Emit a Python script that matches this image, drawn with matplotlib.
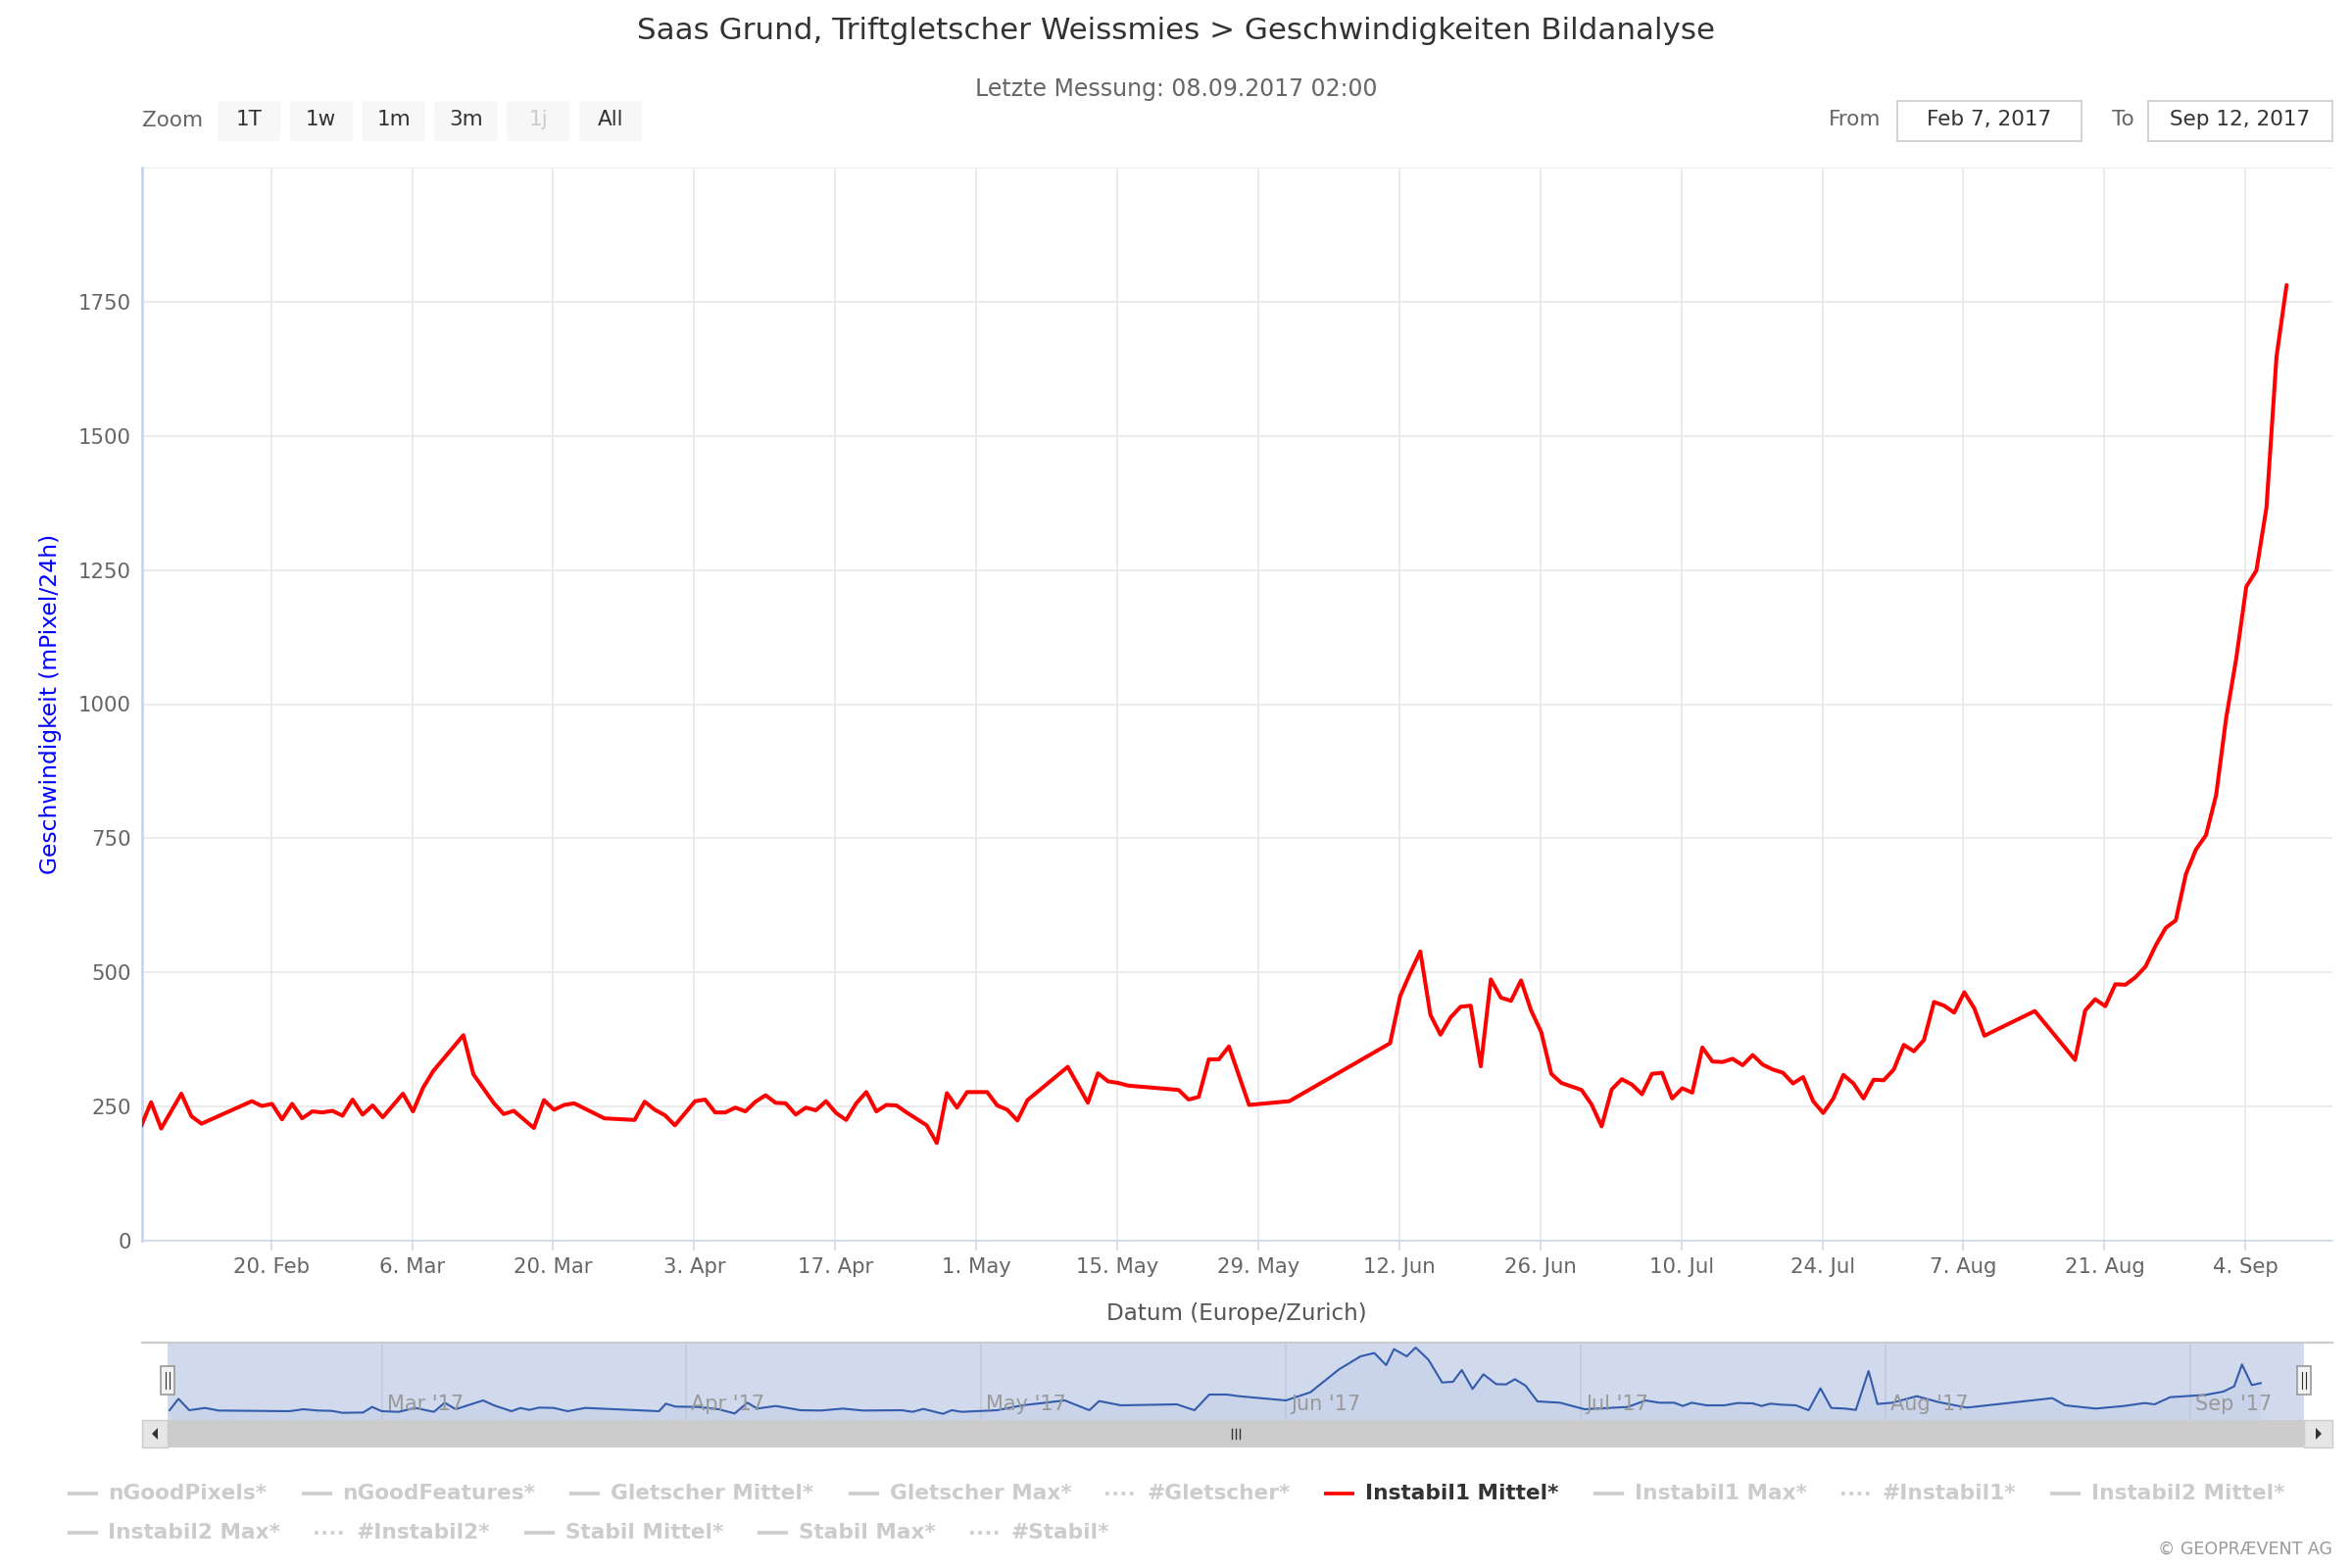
import pandas as pd
import matplotlib
matplotlib.use("Agg")
import matplotlib.pyplot as plt
import matplotlib.transforms as mtransforms
from matplotlib.patches import Rectangle, FancyBboxPatch, Polygon

plt.rcParams['font.family'] = ['DejaVu Sans']

# --- data ---------------------------------------------------------------
t0 = pd.Timestamp("2017-02-07")

# Instabil1 Mittel*: day after 7 Feb (measurement at 02:00), speed mPixel/24h
days = [0, 1, 2, 4, 5, 6, 11, 12, 13, 14, 15, 16, 17, 18, 19, 20, 21, 22, 23, 24,
        26, 27, 28, 29, 32, 33, 35, 36, 37, 39, 40, 41, 42, 43, 46, 49, 50, 51, 52, 53,
        55, 56, 57, 58, 59, 60, 61, 62, 63, 64, 65, 66, 67, 68, 69, 70, 71, 72, 73, 74,
        75, 76, 78, 79, 80, 81, 82, 84, 85, 86, 87, 88, 92, 94, 95, 96, 97, 98, 103, 104,
        105, 106, 107, 108, 110, 114, 124, 125, 126, 127, 128, 129, 130, 131, 132, 133,
        134, 135, 136, 137, 138, 139, 140, 141, 143, 144, 145, 146, 147, 148, 149, 150,
        151, 152, 153, 154, 155, 156, 157, 158, 159, 160, 161, 162, 163, 164, 165, 166,
        167, 168, 169, 170, 171, 172, 173, 174, 175, 176, 177, 178, 179, 180, 181, 182,
        183, 188, 192, 193, 194, 195, 196, 197, 198, 199, 200, 201, 202, 203, 204, 205,
        206, 207, 208, 209, 210, 211, 212, 213]
speed = [213, 258, 209, 274, 232, 218, 260, 251, 255, 226, 255, 228, 241, 239, 242, 233, 263, 235, 252, 230,
         274, 241, 285, 316, 383, 310, 257, 236, 242, 210, 262, 244, 253, 256, 228, 225, 259, 244, 234, 215,
         260, 263, 239, 239, 248, 241, 259, 271, 257, 256, 235, 248, 243, 260, 238, 225, 256, 277, 241, 253,
         252, 239, 215, 182, 275, 248, 277, 277, 252, 244, 224, 262, 324, 257, 312, 297, 294, 289, 281, 263,
         268, 338, 338, 362, 253, 260, 368, 456, 499, 539, 421, 384, 416, 436, 438, 325,
         487, 453, 447, 485, 429, 389, 311, 294, 281, 254, 213, 282, 301, 291, 273, 311,
         313, 265, 284, 276, 360, 334, 333, 339, 327, 346, 328, 319, 313, 293, 305, 260,
         238, 265, 309, 293, 265, 300, 299, 319, 365, 353, 374, 445, 438, 425, 463, 433,
         382, 428, 337, 429, 450, 437, 478, 477, 491, 511, 550, 583, 597, 683, 729, 756,
         830, 974, 1085, 1219, 1249, 1366, 1648, 1781]

# navigator series (relative units)
nav_days = [0.4, 1.3, 2.4, 4.0, 5.4, 12.6, 14.0, 15.5, 16.9, 18.0, 20.1, 21.0, 22.0, 23.7, 25.4,
            27.3, 28.4, 29.5, 32.3, 33.4, 35.2, 36.1, 37.0, 38.0, 39.5, 40.9, 42.7, 50.2, 50.9,
            51.9, 54.2, 56.3, 57.9, 59.2, 60.2, 62.1, 64.6, 66.7, 68.9, 71.0, 74.9, 76.0, 77.1,
            79.1, 80.0, 81.0, 84.6, 87.2, 91.5, 94.0, 95.0, 97.2, 102.9, 104.7, 106.2, 108.0,
            109.2, 111.4, 114.0, 116.5, 119.4, 121.6, 123.0, 124.2, 125.0, 126.3, 127.2, 128.5,
            129.9, 131.0, 131.9, 133.0, 134.1, 135.4, 136.4, 137.3, 138.4, 139.6, 141.9, 144.4,
            148.8, 150.6, 152.0, 153.5, 154.4, 155.3, 156.8, 158.6, 160.0, 161.5, 162.4, 163.3,
            164.4, 165.9, 167.2, 168.4, 169.5, 170.9, 172.0, 173.3, 174.2, 175.7, 178.2, 180.4,
            183.3, 192.0, 193.3, 196.4, 199.3, 201.4, 202.4, 204.0, 207.6, 209.4, 210.5, 211.3,
            212.3, 213.2]
nav_vals = [30, 65, 30, 37, 29, 27, 33, 29, 28, 22, 23, 40, 27, 25, 37,
            25, 53, 33, 60, 45, 27, 37, 31, 38, 37, 27, 37, 27, 50,
            41, 40, 33, 20, 53, 35, 43, 30, 29, 35, 29, 30, 25, 34,
            19, 30, 25, 30, 45, 60, 30, 58, 45, 48, 30, 78, 78,
            73, 67, 60, 85, 155, 195, 205, 168, 217, 195, 222, 185,
            115, 117, 153, 95, 140, 110, 109, 125, 105, 57, 53, 33,
            40, 60, 53, 53, 43, 53, 45, 45, 52, 51, 43, 50,
            47, 45, 30, 97, 37, 35, 31, 150, 49, 53, 73, 55,
            38, 67, 45, 35, 43, 52, 48, 70, 77, 87, 103, 170,
            107, 113]

y_ticks = [0, 250, 500, 750, 1000, 1250, 1500, 1750, 2000]
x_ticks = pd.date_range("2017-02-20", "2017-09-04", freq="14D")
nav_months = pd.date_range("2017-03-01", "2017-09-01", freq="MS")

zoom_buttons = ["1T", "1w", "1m", "3m", "1j", "All"]
legend_names = ["nGoodPixels*", "nGoodFeatures*", "Gletscher Mittel*", "Gletscher Max*",
                "#Gletscher*", "Instabil1 Mittel*", "Instabil1 Max*", "#Instabil1*",
                "Instabil2 Mittel*", "Instabil2 Max*", "#Instabil2*", "Stabil Mittel*",
                "Stabil Max*", "#Stabil*"]
active_series = "Instabil1 Mittel*"

times = t0 + pd.Timedelta(hours=2) + pd.to_timedelta(days, unit="D")
nav_times = t0 + pd.to_timedelta(nav_days, unit="D")
x_min = t0 + pd.Timedelta(days=0.19)
x_max = t0 + pd.Timedelta(days=217.63)

W, H = 2400, 1600
fig = plt.figure(figsize=(24, 16), dpi=100)

# overlay in pixel coordinates for the page furniture
ui = fig.add_axes([0, 0, 1, 1])
ui.set_xlim(0, W)
ui.set_ylim(H, 0)
ui.axis("off")

ui.text(1200, 32, "Saas Grund, Triftgletscher Weissmies > Geschwindigkeiten Bildanalyse",
        ha="center", va="center", fontsize=22.3, color="#333333")
ui.text(1200, 91, "Letzte Messung: 08.09.2017 02:00", ha="center", va="center",
        fontsize=17, color="#666666")

# range selector buttons
ui.text(145, 123, "Zoom", ha="left", va="center", fontsize=15.5, color="#666666")
for i, lab in enumerate(zoom_buttons):
    x = 222 + i * 73.8
    ui.add_patch(FancyBboxPatch((x, 103), 64, 41, boxstyle="round,pad=0,rounding_size=3",
                                fc="#f7f7f7", ec="none"))
    ui.text(x + 32, 122, lab, ha="center", va="center", fontsize=15.5,
            color="#cccccc" if lab == "1j" else "#333333")

ui.text(1919, 122, "From", ha="right", va="center", fontsize=15.5, color="#666666")
ui.add_patch(Rectangle((1936, 103), 188, 41, fc="white", ec="#cccccc", lw=1.2))
ui.text(2030, 122, "Feb 7, 2017", ha="center", va="center", fontsize=15.5, color="#333333")
ui.text(2178, 122, "To", ha="right", va="center", fontsize=15.5, color="#666666")
ui.add_patch(Rectangle((2192, 103), 188, 41, fc="white", ec="#cccccc", lw=1.2))
ui.text(2286, 122, "Sep 12, 2017", ha="center", va="center", fontsize=15.5, color="#333333")

# --- main chart ---------------------------------------------------------
ax = fig.add_axes([145 / W, 1 - 1266 / H, 2235 / W, 1095 / H])
ax.plot(times, speed, color="#ff0000", lw=2.9, solid_joinstyle="round",
        solid_capstyle="round", zorder=3)
ax.set_xlim(x_min, x_max)
ax.set_ylim(0, 2000)
ax.set_yticks(y_ticks)
ax.set_yticklabels([str(v) if v < 2000 else "" for v in y_ticks])
ax.set_xticks(x_ticks)
ax.set_xticklabels([f"{d.day}. {d.strftime('%b')}" for d in x_ticks])
ax.grid(True, color="#e6e6e6", lw=1.1)
ax.set_axisbelow(True)
for s in ["top", "right"]:
    ax.spines[s].set_visible(False)
ax.spines["left"].set_color("#ccd6eb")
ax.spines["left"].set_linewidth(2)
ax.spines["bottom"].set_color("#ccd6eb")
ax.spines["bottom"].set_linewidth(1.2)
ax.tick_params(axis="x", length=7, width=1.1, color="#ccd6eb", labelsize=15.3,
               labelcolor="#666666", pad=5)
ax.tick_params(axis="y", length=0, labelsize=15.3, labelcolor="#666666", pad=8)
ax.set_facecolor("white")

fig.text(52 / W, 1 - 718 / H, "Geschwindigkeit (mPixel/24h)", rotation=90,
         ha="center", va="center", fontsize=16.8, color="#0000ff")
fig.text(1262 / W, 1 - 1341 / H, "Datum (Europe/Zurich)", ha="center", va="center",
         fontsize=16.6, color="#555555")

# --- navigator ----------------------------------------------------------
nav = fig.add_axes([145 / W, 1 - 1449 / H, 2235 / W, 79 / H])
nav.set_facecolor("white")
nav.plot(nav_times, nav_vals, color="#335cad", lw=1.5, zorder=3)
nav.fill_between(nav_times, nav_vals, 0, color="#335cad", alpha=0.05, lw=0)
nav.set_xlim(t0 - pd.Timedelta(days=2.4), t0 + pd.Timedelta(days=220.5))
nav.set_ylim(0, 237)
nav.axvspan(x_min, x_max, color=(102 / 255, 133 / 255, 194 / 255, 0.3), lw=0, zorder=2)
nav.set_xticks(nav_months)
nav.set_yticks([])
nav.grid(True, axis="x", color="#e6e6e6", lw=1.1)
nav.tick_params(axis="x", length=0, labelbottom=False)
for s in nav.spines.values():
    s.set_visible(False)
lbl_off = mtransforms.ScaledTranslation(5 / 100, 0, fig.dpi_scale_trans)
lbl_tr = mtransforms.blended_transform_factory(nav.transData, nav.transAxes) + lbl_off
for m in nav_months:
    nav.text(m, 0.2, m.strftime("%b '%y"), transform=lbl_tr, ha="left", va="center",
             fontsize=15, color="#999999", zorder=4)

# outline, handles, scrollbar (pixel overlay drawn on top)
top = fig.add_axes([0, 0, 1, 1])
top.set_xlim(0, W)
top.set_ylim(H, 0)
top.axis("off")
top.plot([145, 2380], [1370, 1370], color="#cccccc", lw=1.6)
for hx in (171, 2351):
    top.add_patch(Rectangle((hx - 7, 1394), 14, 29, fc="#f2f2f2", ec="#999999", lw=1.2))
    for dx in (-2, 2):
        top.plot([hx + dx, hx + dx], [1400, 1417], color="#333333", lw=0.8)

top.add_patch(Rectangle((145, 1449), 2235, 28, fc="#f2f2f2", ec="none"))
top.add_patch(Rectangle((171, 1449), 2180, 28, fc="#cccccc", ec="none"))
top.add_patch(Rectangle((145, 1449), 26, 28, fc="#e6e6e6", ec="#cccccc", lw=1))
top.add_patch(Rectangle((2351, 1449), 29, 28, fc="#e6e6e6", ec="#cccccc", lw=1))
top.add_patch(Polygon([[155, 1463], [161, 1457], [161, 1469]], closed=True, fc="#333333"))
top.add_patch(Polygon([[2369, 1463], [2363, 1457], [2363, 1469]], closed=True, fc="#333333"))
for dx in (-4, 0, 4):
    top.plot([1261 + dx, 1261 + dx], [1458, 1468], color="#333333", lw=1)

# --- legend -------------------------------------------------------------
renderer = fig.canvas.get_renderer()
leg_size = 15.6


def text_width(s):
    t = top.text(0, 0, s, fontsize=leg_size, fontweight="bold")
    w = t.get_window_extent(renderer).width
    t.remove()
    return w


sym_w, sym_gap, item_gap = 31, 11, 35
rows = [legend_names[:9], legend_names[9:]]
widths = {n: sym_w + sym_gap + text_width(n) for n in legend_names}
row1_w = sum(widths[n] for n in rows[0]) + item_gap * (len(rows[0]) - 1)
x_start = (W - row1_w) / 2
for row, y in zip(rows, (1524, 1564)):
    x = x_start
    for name in row:
        on = name == active_series
        col = "#ff0000" if on else "#cccccc"
        ls = (0, (1, 1.3)) if name.startswith("#") else "-"
        top.plot([x, x + sym_w], [y, y], color=col, lw=2.6, ls=ls,
                 solid_capstyle="butt", dash_capstyle="butt")
        top.text(x + sym_w + sym_gap, y, name, ha="left", va="center", fontsize=leg_size,
                 fontweight="bold", color="#333333" if on else "#cccccc")
        x += widths[name] + item_gap

top.text(2380, 1581, "\u00a9 GEOPR\u00c6VENT AG", ha="right", va="center",
         fontsize=12.5, color="#999999")

fig.savefig("out.png", dpi=100, facecolor="white")
